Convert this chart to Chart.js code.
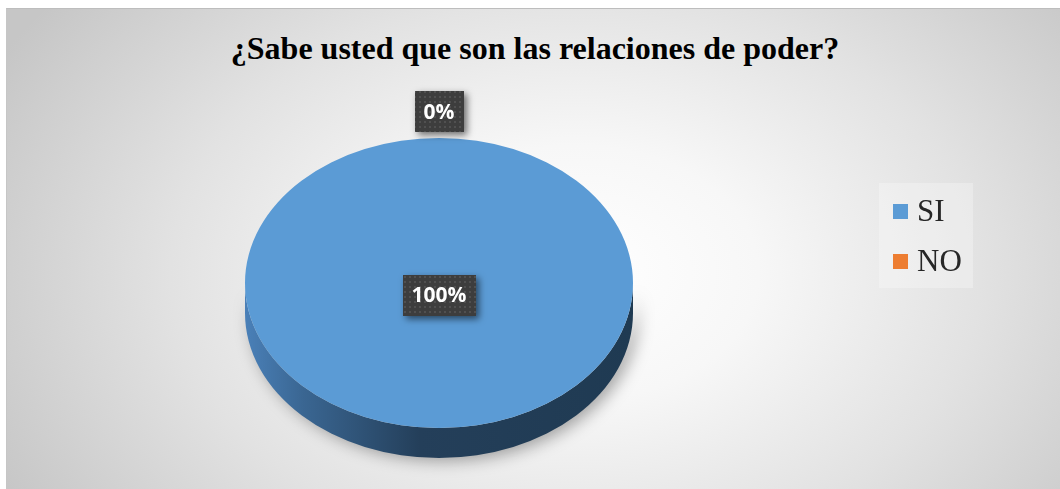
<!DOCTYPE html>
<html lang="es">
<head>
<meta charset="UTF-8">
<title>¿Sabe usted que son las relaciones de poder?</title>
<script src="https://cdn.jsdelivr.net/npm/chart.js"></script>
<style>
  html, body { margin: 0; padding: 0; background: #fff; }
  #frame {
    position: absolute; left: 6px; top: 8px; width: 1054px; height: 481px;
    box-sizing: border-box;
    border-top: 1px solid #bdbdbd; border-left: 1px solid #c6c6c6;
    background: radial-gradient(ellipse 62% 95% at 54% 55%, #ffffff 0%, #f7f7f7 28%, #e2e2e2 62%, #c6c6c6 100%);
    overflow: hidden;
  }
  #title {
    position: absolute; left: 0; top: 23px; width: 1056px; text-align: center;
    font: bold 32px "Liberation Serif", "Times New Roman", serif; line-height: 32px; color: #000;
  }
  #chartBox { position: absolute; left: 0; top: 0; width: 1053px; height: 480px; }
  #legend {
    position: absolute; left: 872px; top: 174px; width: 94px; height: 105px;
    background: rgba(255,255,255,0.28);
    font: 31px "Liberation Serif", "Times New Roman", serif; color: #262626;
  }
  .item { position: absolute; left: 14px; height: 30px; line-height: 30px; white-space: nowrap; }
  .item span.sw { display: inline-block; width: 15px; height: 15px; margin-right: 9px; vertical-align: 2px; }
</style>
</head>
<body>
<div id="frame">
  <div id="title">¿Sabe usted que son las relaciones de poder?</div>
  <div id="chartBox"><canvas id="c"></canvas></div>
  <div id="legend"></div>
</div>

<script>
  // datos
  const categorias = ["SI", "NO"];
  const valores = [100, 0];
  const colores = ["#5b9bd5", "#ed7d31"];

  const k = 0.747;     // aplastamiento vertical del pastel
  const depth = 30;    // grosor del borde 3D

  // leyenda
  const legend = document.getElementById("legend");
  categorias.forEach((cat, i) => {
    const d = document.createElement("div");
    d.className = "item";
    d.style.top = (13 + i * 50) + "px";
    d.innerHTML = '<span class="sw" style="background:' + colores[i] + '"></span>' + cat;
    legend.appendChild(d);
  });

  // patron punteado de las etiquetas
  function makePattern(ctx) {
    const p = document.createElement("canvas");
    p.width = 5; p.height = 5;
    const pc = p.getContext("2d");
    pc.fillStyle = "#3d3d3d";
    pc.fillRect(0, 0, 5, 5);
    pc.fillStyle = "#505050";
    pc.fillRect(2, 2, 2, 2);
    return ctx.createPattern(p, "repeat");
  }

  const pie3d = {
    id: "pie3d",
    beforeDatasetsDraw(chart) {
      const ctx = chart.ctx;
      const arc = chart.getDatasetMeta(0).data[0];
      const cx = arc.x, cy = arc.y, R = arc.outerRadius, ry = R * k;
      // lado del cilindro
      ctx.save();
      ctx.beginPath();
      ctx.ellipse(cx, cy + depth, R, ry, 0, 0, Math.PI);
      ctx.lineTo(cx - R, cy);
      ctx.ellipse(cx, cy, R, ry, 0, Math.PI, 0, true);
      ctx.closePath();
      const g = ctx.createLinearGradient(cx - R, 0, cx + R, 0);
      g.addColorStop(0, "#4a80b8");
      g.addColorStop(0.15, "#3a6692");
      g.addColorStop(0.45, "#243f5a");
      g.addColorStop(1, "#1f3a52");
      ctx.shadowColor = "rgba(0,0,0,0.35)";
      ctx.shadowBlur = 16;
      ctx.shadowOffsetX = 5;
      ctx.shadowOffsetY = 3;
      ctx.fillStyle = g;
      ctx.fill();
      ctx.restore();
      // cara superior aplastada
      ctx.save();
      ctx.translate(cx, cy);
      ctx.scale(1, k);
      ctx.translate(-cx, -cy);
    },
    afterDatasetsDraw(chart) {
      const ctx = chart.ctx;
      ctx.restore();
      const meta = chart.getDatasetMeta(0);
      const total = valores.reduce((a, b) => a + b, 0);
      const pattern = makePattern(ctx);
      ctx.font = "bold 21px 'Open Sans', sans-serif";
      meta.data.forEach((arc, i) => {
        const pct = Math.round(valores[i] / total * 100) + "%";
        let x, y;
        if (valores[i] === total) {
          x = arc.x; y = arc.y + 12;
        } else {
          const a = (arc.startAngle + arc.endAngle) / 2;
          const r = arc.outerRadius + 35;
          x = arc.x + Math.cos(a) * r;
          y = arc.y + Math.sin(a) * r * k;
        }
        const w = ctx.measureText(pct).width + 18;
        const h = 41;
        ctx.save();
        ctx.shadowColor = "rgba(0,0,0,0.55)";
        ctx.shadowBlur = 7;
        ctx.shadowOffsetX = 3;
        ctx.shadowOffsetY = 3;
        ctx.fillStyle = pattern;
        ctx.fillRect(Math.round(x - w / 2), Math.round(y - h / 2), Math.round(w), h);
        ctx.restore();
        ctx.fillStyle = "#ffffff";
        ctx.textAlign = "center";
        ctx.textBaseline = "middle";
        ctx.fillText(pct, x, y + 1);
      });
    }
  };

  new Chart(document.getElementById("c"), {
    type: "pie",
    data: {
      labels: categorias,
      datasets: [{
        data: valores,
        backgroundColor: colores,
        borderWidth: 0
      }]
    },
    options: {
      responsive: true,
      maintainAspectRatio: false,
      animation: false,
      events: [],
      layout: { padding: { left: 238, right: 427, top: 80, bottom: 12 } },
      plugins: {
        legend: { display: false },
        tooltip: { enabled: false },
        title: { display: false }
      }
    },
    plugins: [pie3d]
  });
</script>
</body>
</html>
